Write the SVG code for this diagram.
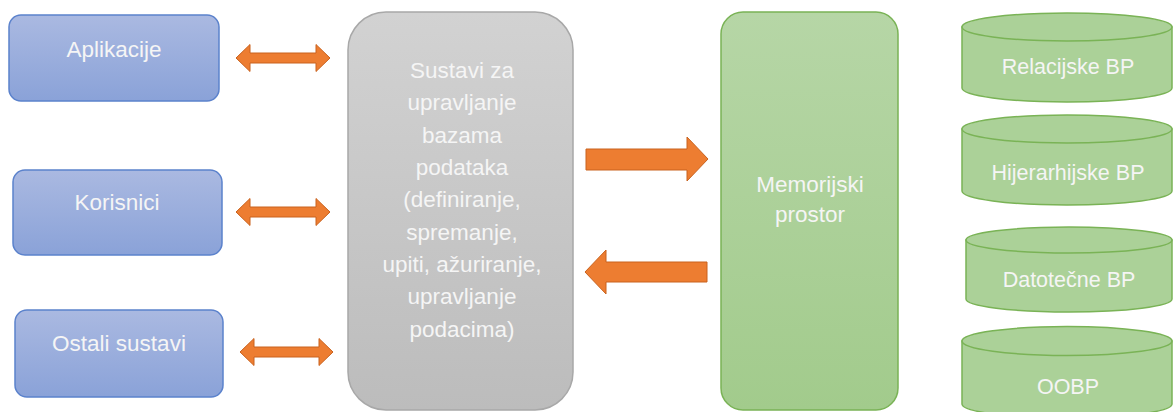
<svg xmlns="http://www.w3.org/2000/svg" width="1174" height="412" viewBox="0 0 1174 412">
<defs>
<linearGradient id="gBlue" x1="0" y1="0" x2="0" y2="1"><stop offset="0" stop-color="#aab9e1"/><stop offset="1" stop-color="#8aa2d8"/></linearGradient>
<linearGradient id="gGray" x1="0" y1="0" x2="0" y2="1"><stop offset="0" stop-color="#d2d2d2"/><stop offset="1" stop-color="#bcbcbc"/></linearGradient>
<linearGradient id="gGreen" x1="0" y1="0" x2="0" y2="1"><stop offset="0" stop-color="#b6d6a6"/><stop offset="1" stop-color="#a2cb8c"/></linearGradient>
<style>
.blue{fill:url(#gBlue);stroke:#5b82cc;stroke-width:1.5}
.gray{fill:url(#gGray);stroke:#a8a8a8;stroke-width:1.5}
.green{fill:url(#gGreen);stroke:#7ab356;stroke-width:1.5}
.cyl{fill:#abd198;stroke:#7ab356;stroke-width:1.5}
.arr{fill:#ed7d31;stroke:#c9631f;stroke-width:1}
text{font-family:"Liberation Sans",Arial,sans-serif;font-size:22.5px;fill:#f5f5f5;text-anchor:middle}
.c{font-size:21.5px}
</style>
</defs>
<g id="aplikacije"><rect class="blue" x="9" y="15" width="210" height="86" rx="12"/><text x="114" y="57">Aplikacije</text></g>
<g id="korisnici"><rect class="blue" x="13" y="170" width="209" height="85" rx="12"/><text x="117" y="210">Korisnici</text></g>
<g id="ostali"><rect class="blue" x="15" y="310" width="208" height="87" rx="12"/><text x="119" y="351">Ostali sustavi</text></g>
<g id="sustavi"><rect class="gray" x="348" y="12" width="225" height="398" rx="38"/>
<text x="462" y="78">Sustavi za</text><text x="462" y="110">upravljanje</text><text x="462" y="143">bazama</text><text x="462" y="175">podataka</text><text x="462" y="207">(definiranje,</text><text x="462" y="240">spremanje,</text><text x="462" y="272">upiti, ažuriranje,</text><text x="462" y="304">upravljanje</text><text x="462" y="337">podacima)</text></g>
<g id="memorija"><rect class="green" x="721" y="12" width="177" height="398" rx="22"/><text x="810" y="192">Memorijski</text><text x="810" y="222">prostor</text></g>
<g id="relacijske"><path class="cyl" d="M962,27 L962,88 A105,14 0 0 0 1172,88 L1172,27 Z"/><ellipse class="cyl" cx="1067" cy="27" rx="105" ry="14"/><text class="c" x="1068" y="74">Relacijske BP</text></g>
<g id="hijerarhijske"><path class="cyl" d="M962,129 L962,191 A105,14 0 0 0 1172,191 L1172,129 Z"/><ellipse class="cyl" cx="1067" cy="129" rx="105" ry="14"/><text class="c" x="1068" y="180">Hijerarhijske BP</text></g>
<g id="datotecne"><path class="cyl" d="M966,240 L966,299 A103,13 0 0 0 1172,299 L1172,240 Z"/><ellipse class="cyl" cx="1069" cy="240" rx="103" ry="13"/><text class="c" x="1069" y="287">Datotečne BP</text></g>
<g id="oobp"><path class="cyl" d="M962,341 L962,404 A105,14 0 0 0 1172,404 L1172,341 Z"/><ellipse class="cyl" cx="1067" cy="341" rx="105" ry="14.5"/><text class="c" x="1068" y="394">OOBP</text></g>
<g id="connectors">
<path class="arr" d="M236,58 L250,44.5 L250,53 L316,53 L316,44.5 L330,58 L316,71.5 L316,63 L250,63 L250,71.5 Z"/>
<path class="arr" d="M236,212 L250,198.5 L250,207 L316,207 L316,198.5 L330,212 L316,225.5 L316,217 L250,217 L250,225.5 Z"/>
<path class="arr" d="M240,352 L254,338.5 L254,347 L319,347 L319,338.5 L333,352 L319,365.5 L319,357 L254,357 L254,365.5 Z"/>
<path class="arr" d="M586,149 L687,149 L687,137 L708,159 L687,181 L687,170 L586,170 Z"/>
<path class="arr" d="M707,262 L606,262 L606,250 L585,272 L606,294 L606,282 L707,282 Z"/>
</g>
</svg>
